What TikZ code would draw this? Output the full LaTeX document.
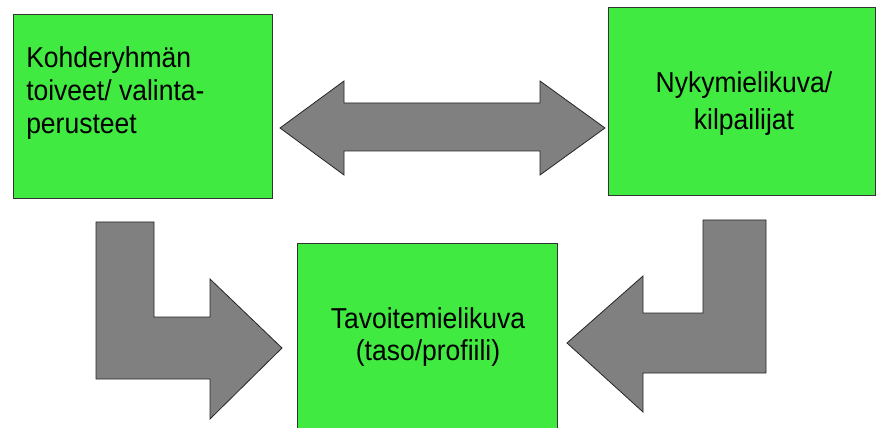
\documentclass[tikz,border=0pt]{standalone}
\usepackage{fontspec}
\setmainfont{Liberation Sans}[FakeStretch=0.92]
\definecolor{boxgreen}{RGB}{64,234,64}
\definecolor{arrowgray}{RGB}{128,128,128}
\begin{document}
\begin{tikzpicture}[x=0.75pt,y=-0.75pt,
  box/.style={draw=black!80, fill=boxgreen, line width=0.6pt, inner sep=0pt, anchor=north west},
  blockarrow/.style={draw=black!85, fill=arrowgray, line width=0.6pt, line join=miter},
  lbl/.style={inner sep=0pt, font=\fontsize{21.6}{#1}\selectfont},
  lbl/.default={25}]
\useasboundingbox (0,0) rectangle (876,428);
% boxes
\node[box, minimum width=194.25pt, minimum height=138pt] (kohde) at (13,14) {};
\node[box, minimum width=200.25pt, minimum height=141pt] (nyky) at (608,7) {};
\node[box, minimum width=195pt, minimum height=142pt] (tavoite) at (297,243) {};
% texts
\node[lbl=24.75, align=left, anchor=west] (tkohde) at (26,93) {Kohderyhmän\\toiveet/ valinta-\\perusteet};
\node[lbl=27.75, align=center] (tnyky) at (744,104) {Nykymielikuva/\\kilpailijat};
\node[lbl=24, align=center] (ttavoite) at (428,337) {Tavoitemielikuva\\(taso/profiili)};
% double arrow between top boxes
\draw[blockarrow] (280,128) -- (344,81) -- (344,103) -- (540,103) -- (540,81) -- (605,128)
  -- (540,175) -- (540,151) -- (344,151) -- (344,175) -- cycle;
% left bent arrow
\draw[blockarrow] (96,222) -- (154,222) -- (154,317) -- (210,317) -- (210,279) -- (282,348)
  -- (210,419) -- (210,379) -- (96,379) -- cycle;
% right bent arrow
\draw[blockarrow] (766,220) -- (766,373) -- (643,373) -- (643,412) -- (567,343) -- (643,276)
  -- (643,313) -- (703,313) -- (703,220) -- cycle;
\end{tikzpicture}
\end{document}
